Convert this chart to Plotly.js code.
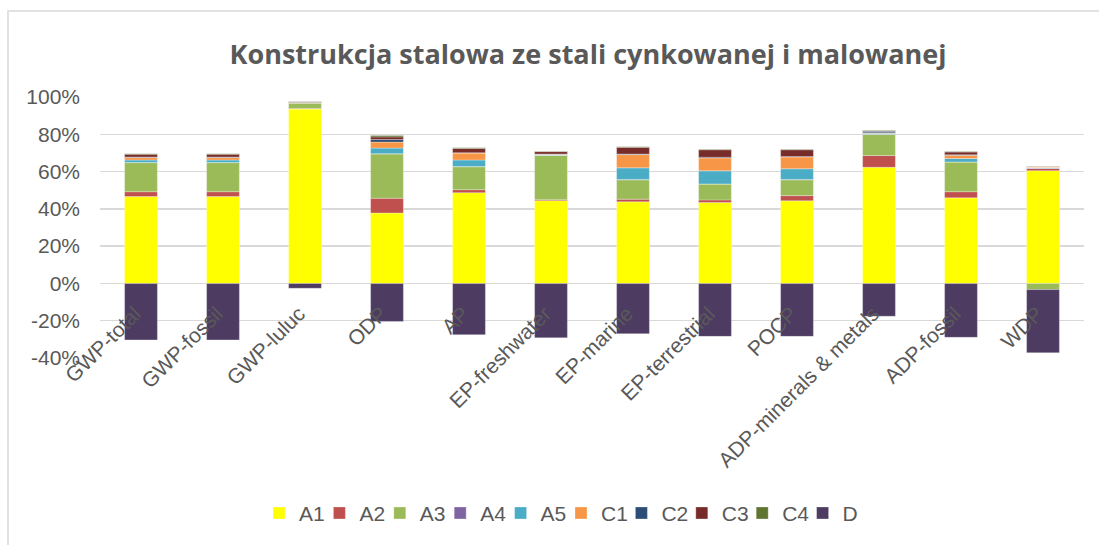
<!DOCTYPE html>
<html>
<head>
<meta charset="utf-8">
<script src="https://cdn.plot.ly/plotly-3.0.1.min.js"></script>
<style>
  body { margin: 0; background: #fff; }
  #graph { width: 1099px; height: 545px; }
</style>
</head>
<body>
<div id="graph"></div>
<script>
// categories and stage shares (in %)
var categories = ['GWP-total', 'GWP-fossil', 'GWP-luluc', 'ODP', 'AP', 'EP-freshwater',
  'EP-marine', 'EP-terrestrial', 'POCP', 'ADP-minerals & metals', 'ADP-fossil', 'WDP'];

var A1 = [46.6, 46.6, 93.5, 37.8, 48.7, 44.4, 43.8, 43.4, 44.3, 62.3, 45.9, 60.5];
var A2 = [2.6, 2.6, 0.3, 7.9, 1.6, 0.5, 1.4, 1.4, 2.8, 6.3, 3.3, 1.2];
var A3 = [15.6, 15.6, 3.0, 23.8, 12.3, 23.8, 10.4, 8.5, 8.5, 11.3, 15.9, -3.3];
var A4 = [0.1, 0.1, 0.0, 0.1, 0.1, 0.1, 0.1, 0.1, 0.1, 0.1, 0.1, 0.1];
var A5 = [1.3, 1.3, 0.1, 3.0, 3.5, 0.2, 6.3, 7.0, 5.8, 0.5, 1.8, 0.3];
var C1 = [1.3, 1.3, 0.2, 3.2, 3.7, 0.3, 7.1, 6.9, 6.3, 0.3, 1.7, 0.3];
var C2 = [0.3, 0.3, 0.1, 1.4, 0.2, 0.1, 0.3, 0.4, 0.3, 0.8, 0.3, 0.1];
var C3 = [1.5, 1.5, 0.3, 1.4, 2.3, 1.3, 3.6, 4.0, 3.6, 0.3, 1.5, 0.2];
var C4 = [0.3, 0.3, 0.1, 0.7, 0.4, 0.2, 0.3, 0.3, 0.3, 0.2, 0.3, 0.1];
var D = [-30.3, -30.3, -2.6, -20.4, -27.5, -29.2, -27.0, -28.4, -28.4, -17.6, -28.9, -33.9];

var seriesNames = ['A1', 'A2', 'A3', 'A4', 'A5', 'C1', 'C2', 'C3', 'C4', 'D'];
var seriesValues = [A1, A2, A3, A4, A5, C1, C2, C3, C4, D];
var colors = ['#FFFF00', '#C0504D', '#9BBB59', '#8064A2', '#4BACC6',
  '#F79646', '#2C4D75', '#772C2A', '#5F7530', '#4D3B62'];

var yTicks = [-40, -20, 0, 20, 40, 60, 80, 100];

var txt = '#595959';
var layout = {
  width: 1099,
  height: 545,
  barmode: 'relative',
  bargap: 0.6,
  showlegend: true,
  paper_bgcolor: '#fff',
  plot_bgcolor: '#fff',
  margin: { l: 100, r: 15, t: 97, b: 184 },
  font: { family: 'Liberation Sans, Arial, sans-serif', size: 21, color: txt },
  title: {
    text: '<b>Konstrukcja stalowa ze stali cynkowanej i malowanej</b>',
    font: { family: 'Open Sans, sans-serif', size: 27, color: txt },
    x: 0.535, xanchor: 'center',
    yref: 'container', y: 0.9, yanchor: 'middle'
  },
  xaxis: {
    type: 'category',
    anchor: 'free',
    position: 40 / 140,
    tickangle: -45,
    ticks: '',
    ticklabelshift: -6,
    ticklabelstandoff: 13,
    showline: false,
    showgrid: false,
    zeroline: false,
    tickfont: { size: 21, color: txt },
    automargin: false
  },
  yaxis: {
    range: [-40, 100],
    tickvals: yTicks,
    ticktext: yTicks.map(function (v) { return v + '%'; }),
    showgrid: true,
    gridcolor: '#d9d9d9',
    gridwidth: 1.3,
    zeroline: false,
    showline: false,
    ticks: '',
    ticklabelstandoff: 19,
    tickfont: { size: 21, color: txt },
    automargin: false
  },
  shapes: [{
    type: 'rect', xref: 'paper', yref: 'paper',
    x0: -0.0935, x1: 1.05, y0: -0.8, y1: 1.3295,
    line: { color: '#d9d9d9', width: 1.5 },
    fillcolor: 'rgba(0,0,0,0)',
    layer: 'below'
  }]
};

// one small legend per series so the spacing can follow the reference
var traces = [];
for (var i = 0; i < seriesNames.length; i++) {
  var key = i === 0 ? 'legend' : 'legend' + (i + 1);
  traces.push({
    type: 'bar',
    name: seriesNames[i],
    x: categories,
    y: seriesValues[i],
    legend: key,
    showlegend: true,
    marker: { color: colors[i], line: { color: 'rgba(255,255,255,0.6)', width: 0.5 } },
    hoverinfo: 'x+y+name'
  });
  layout[key] = {
    orientation: 'h',
    x: (259 + 60.4 * i - 100) / 984, xanchor: 'left',
    y: -0.595, yanchor: 'middle',
    font: { size: 21, color: txt },
    itemwidth: 30,
    bgcolor: 'rgba(0,0,0,0)'
  };
}

Plotly.newPlot('graph', traces, layout, { displayModeBar: false, staticPlot: true });
</script>
</body>
</html>
